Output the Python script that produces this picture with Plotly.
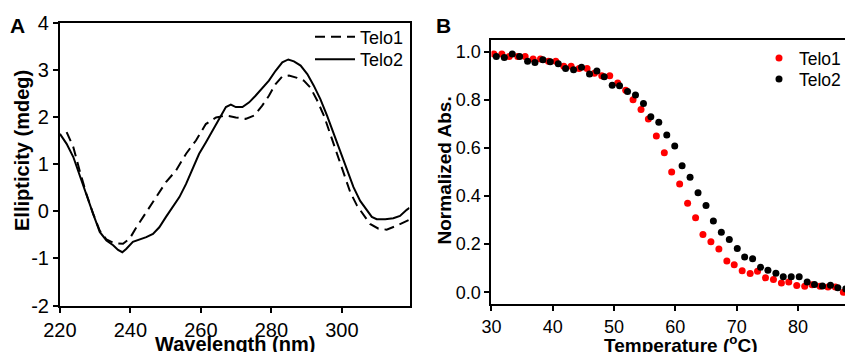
import plotly.graph_objects as go

# ---------------- Panel A: CD spectra ----------------
telo2_wl = [220.0, 221.9, 223.8, 225.6, 227.5, 229.4, 231.3, 233.2, 235.1, 236.5, 237.7, 238.8,
            240.7, 242.6, 244.5, 246.4, 248.2, 250.1, 252.0, 253.9, 255.8, 257.7, 259.5, 261.4,
            263.3, 265.2, 267.1, 268.5, 269.9, 271.8, 273.7, 275.5, 277.4, 279.3, 281.2, 283.1,
            284.8, 286.4, 288.3, 290.2, 292.0, 293.9, 295.8, 297.7, 299.6, 301.4, 303.3, 305.2,
            307.1, 308.5, 309.9, 312.3, 314.6, 316.5, 318.4, 319.2]
telo2_cd = [1.64, 1.43, 1.15, 0.76, 0.33, -0.05, -0.44, -0.62, -0.72, -0.82, -0.87, -0.80,
            -0.65, -0.60, -0.55, -0.48, -0.34, -0.12, 0.09, 0.30, 0.58, 0.90, 1.22, 1.46,
            1.71, 1.96, 2.21, 2.26, 2.21, 2.21, 2.31, 2.45, 2.62, 2.77, 2.98, 3.16,
            3.22, 3.18, 3.09, 2.91, 2.67, 2.38, 2.03, 1.64, 1.25, 0.86, 0.51, 0.22,
            0.01, -0.12, -0.17, -0.17, -0.15, -0.10, 0.03, 0.07]

telo1_wl = [221.9, 223.8, 225.6, 227.5, 229.4, 231.3, 233.2, 235.5, 237.9, 239.8, 241.7, 244.5,
            247.3, 250.1, 252.9, 255.8, 258.6, 261.4, 264.3, 267.1, 269.9, 272.7, 275.1, 277.4,
            279.3, 281.2, 283.1, 285.0, 287.3, 289.2, 291.1, 293.0, 294.9, 296.7, 298.6, 300.5,
            302.4, 304.3, 306.2, 308.0, 310.4, 312.7, 315.1, 317.0, 319.2]
telo1_cd = [1.68, 1.36, 0.86, 0.37, -0.05, -0.41, -0.60, -0.68, -0.69, -0.58, -0.34, -0.02,
            0.30, 0.62, 0.86, 1.22, 1.50, 1.85, 1.99, 2.03, 1.99, 1.96, 2.03, 2.24,
            2.45, 2.70, 2.86, 2.88, 2.83, 2.77, 2.62, 2.35, 2.03, 1.64, 1.22, 0.79,
            0.40, 0.12, -0.09, -0.27, -0.37, -0.39, -0.32, -0.25, -0.18]

a_xticks = [220, 240, 260, 280, 300]
a_yticks = [-2, -1, 0, 1, 2, 3, 4]
a_yticktext = ["-2", "-1", "0", "1", "2", "3", "4"]

# ---------------- Panel B: melting curves ----------------
telo1_T = [30.4, 31.7, 32.9, 34.3, 35.5, 36.8, 38.0, 39.3, 40.5, 41.8, 43.0, 44.3, 45.6, 46.8,
           48.0, 49.3, 50.6, 51.9, 53.1, 54.4, 55.6, 56.9, 58.2, 59.4, 60.7, 62.0, 63.3, 64.5,
           65.8, 67.1, 68.4, 69.6, 70.9, 72.2, 73.4, 74.7, 76.0, 77.3, 78.5, 79.8, 81.1, 82.3,
           83.6, 84.9, 86.1, 87.4]
telo1_abs = [0.99, 0.99, 0.98, 0.98, 0.98, 0.97, 0.97, 0.96, 0.96, 0.94, 0.94, 0.93, 0.93, 0.91,
             0.90, 0.90, 0.87, 0.84, 0.80, 0.76, 0.72, 0.65, 0.58, 0.50, 0.45, 0.37, 0.31, 0.24,
             0.21, 0.18, 0.13, 0.115, 0.09, 0.078, 0.088, 0.06, 0.053, 0.039, 0.043, 0.028, 0.025, 0.031,
             0.025, 0.022, 0.022, 0.0]

telo2_T = [30.8, 32.1, 33.4, 34.6, 35.9, 37.1, 38.4, 39.6, 40.9, 42.1, 43.4, 44.7, 46.0, 47.2,
           48.4, 49.7, 50.9, 52.2, 53.5, 54.8, 56.0, 57.3, 58.6, 59.9, 61.1, 62.4, 63.7, 65.0,
           66.2, 67.5, 68.8, 70.1, 71.3, 72.6, 73.9, 75.1, 76.4, 77.6, 78.9, 80.2, 81.5, 82.7,
           84.0, 85.3, 86.5, 87.8]
telo2_abs = [0.98, 0.976, 0.99, 0.98, 0.96, 0.955, 0.967, 0.958, 0.95, 0.93, 0.925, 0.935, 0.907, 0.92,
             0.896, 0.861, 0.858, 0.835, 0.82, 0.785, 0.73, 0.707, 0.654, 0.608, 0.526, 0.478, 0.414, 0.361,
             0.296, 0.25, 0.219, 0.182, 0.147, 0.139, 0.104, 0.092, 0.079, 0.065, 0.065, 0.065, 0.043, 0.032,
             0.026, 0.029, 0.019, 0.014]

b_xticks = [30, 40, 50, 60, 70, 80]
b_yticks = [0.0, 0.2, 0.4, 0.6, 0.8, 1.0]

FONT = "Liberation Sans, Arial, sans-serif"
W, H = 846, 352

def px_x(p):
    return p / W

def px_y(p):
    return 1 - p / H

fig = go.Figure()

fig.add_trace(go.Scatter(x=telo1_wl, y=telo1_cd, mode="lines", name="Telo1",
                         line=dict(color="black", width=2, dash="10px,6px"),
                         xaxis="x", yaxis="y", legend="legend"))
fig.add_trace(go.Scatter(x=telo2_wl, y=telo2_cd, mode="lines", name="Telo2",
                         line=dict(color="black", width=2),
                         xaxis="x", yaxis="y", legend="legend2"))

fig.add_trace(go.Scatter(x=telo1_T, y=telo1_abs, mode="markers", name="Telo1",
                         marker=dict(color="#ff0000", size=7),
                         xaxis="x2", yaxis="y2", legend="legend3"))
fig.add_trace(go.Scatter(x=telo2_T, y=telo2_abs, mode="markers", name="Telo2",
                         marker=dict(color="black", size=7),
                         xaxis="x2", yaxis="y2", legend="legend4"))

axis_common = dict(showgrid=False, zeroline=False, showline=True, linecolor="black",
                   linewidth=2, ticks="outside", ticklen=5, tickwidth=2, tickcolor="black",
                   automargin=False)

def leg(xp, yp, size, itemwidth=30):
    return dict(x=px_x(xp), y=px_y(yp), xanchor="left", yanchor="top",
                bgcolor="rgba(0,0,0,0)", font=dict(size=size), borderwidth=0,
                itemwidth=itemwidth)

fig.update_layout(
    template="none",
    width=W, height=H,
    margin=dict(l=0, r=0, t=0, b=0, pad=0),
    paper_bgcolor="white", plot_bgcolor="white",
    font=dict(family=FONT, color="black"),
    xaxis=dict(domain=[px_x(60), px_x(410)], range=[220, 319.2], tickvals=a_xticks,
               mirror=True, anchor="y", tickfont=dict(size=20), **axis_common),
    yaxis=dict(domain=[px_y(305.5), px_y(22.7)], range=[-2, 4], tickvals=a_yticks,
               ticktext=a_yticktext, mirror=True, anchor="x", tickfont=dict(size=20),
               **axis_common),
    xaxis2=dict(domain=[px_x(492), 1.0], range=[30, 87.67], tickvals=b_xticks,
                mirror=True, anchor="y2", tickfont=dict(size=18), **axis_common),
    yaxis2=dict(domain=[px_y(304), px_y(40)], range=[-0.0486, 1.0486], tickvals=b_yticks,
                tickformat=".1f", mirror=False, anchor="x2", tickfont=dict(size=18),
                **axis_common),
    legend=leg(310, 18.5, 18, 40),
    legend2=leg(310, 41, 18, 40),
    legend3=leg(760, 40, 17.5),
    legend4=leg(760, 61, 17.5),
    showlegend=True,
)

annotations = [
    dict(text="<b>A</b>", x=px_x(17.5), y=px_y(25.5), font=dict(size=21)),
    dict(text="<b>B</b>", x=px_x(444), y=px_y(25.5), font=dict(size=21)),
    dict(text="<b>Ellipticity (mdeg)</b>", x=px_x(22), y=px_y(150), textangle=-90,
         font=dict(size=20)),
    dict(text="<b>Wavelength (nm)</b>", x=px_x(235), y=px_y(344), font=dict(size=20)),
    dict(text="<b>Normalized Abs.</b>", x=px_x(445), y=px_y(170), textangle=-90,
         font=dict(size=19)),
    dict(text="<b>Temperature (<sup>o</sup>C)</b>", x=px_x(681), y=px_y(344),
         font=dict(size=19)),
]
for a in annotations:
    a.update(xref="paper", yref="paper", showarrow=False, xanchor="center", yanchor="middle")
fig.update_layout(annotations=annotations)

fig.write_html("out.html")
